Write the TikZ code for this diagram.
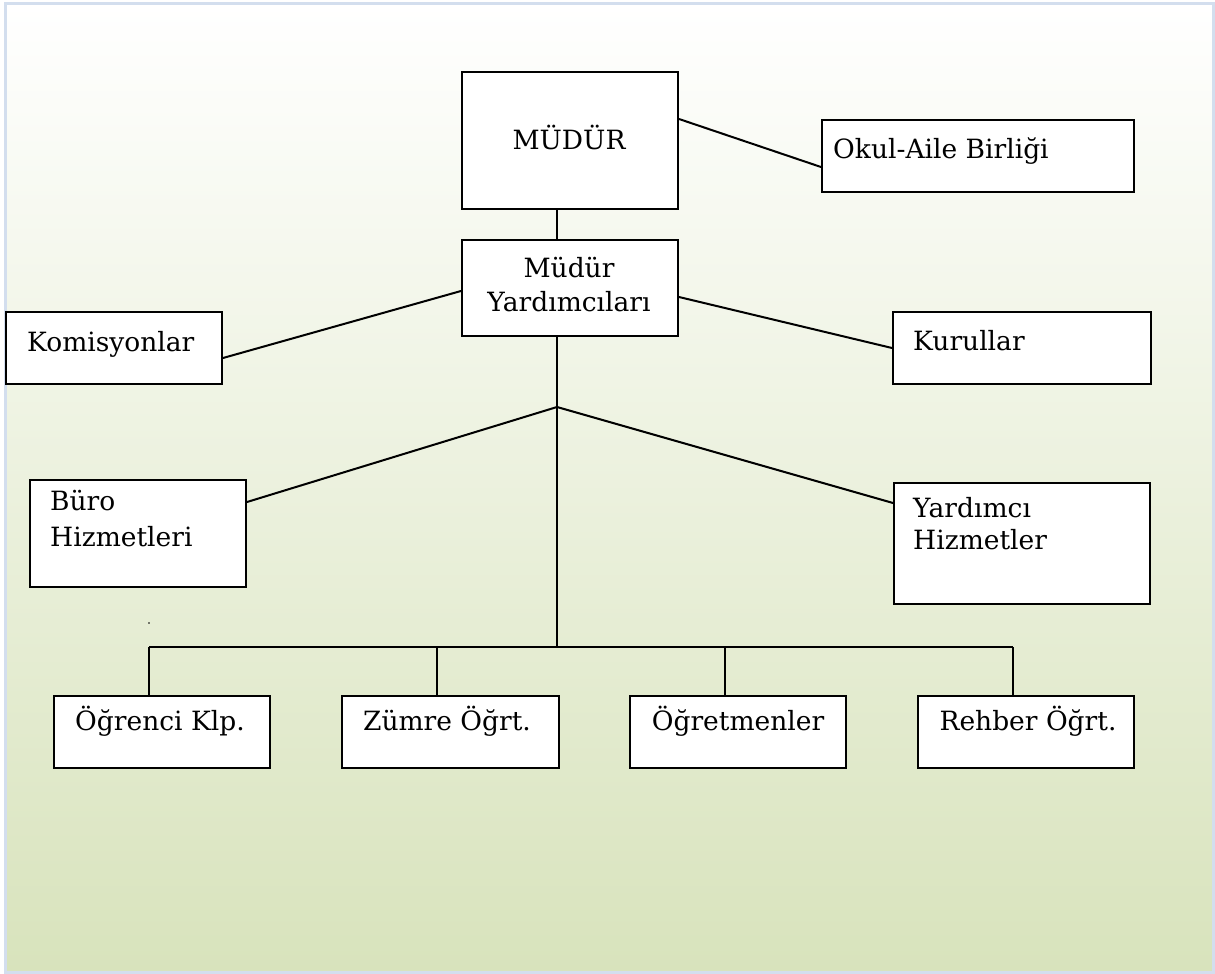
\documentclass[tikz,border=0pt]{standalone}
\usepackage{fontspec}
\setmainfont{DejaVu Serif}
\definecolor{bgbot}{HTML}{D8E3BC}
\definecolor{bgmid}{HTML}{EEF2E3}
\definecolor{frame}{HTML}{D3DEEE}
\begin{document}
\begin{tikzpicture}[x=1pt,y=-1pt,
  box/.style={draw=black,line width=2pt,fill=white,inner sep=0pt,anchor=north west},
  txt/.style={font=\fontsize{26.5}{30}\selectfont,inner sep=0pt},
  conn/.style={draw=black,line width=2pt}]
\useasboundingbox (0,0) rectangle (1215,974);
\shade[top color=white,middle color=bgmid,bottom color=bgbot] (5,4) rectangle (1213,972);
\draw[frame,line width=3pt] (5,4) rectangle (1213,972);
% boxes
\node[box,minimum width=216,minimum height=137] (mudur) at (461,71) {};
\node[box,minimum width=312,minimum height=72] (okul) at (821,119) {};
\node[box,minimum width=216,minimum height=96] (yrd) at (461,239) {};
\node[box,minimum width=216,minimum height=72] (kom) at (5,311) {};
\node[box,minimum width=258,minimum height=72] (kur) at (892,311) {};
\node[box,minimum width=216,minimum height=107] (buro) at (29,479) {};
\node[box,minimum width=256,minimum height=121] (yh) at (893,482) {};
\node[box,minimum width=216,minimum height=72] (ogr) at (53,695) {};
\node[box,minimum width=217,minimum height=72] (zum) at (341,695) {};
\node[box,minimum width=216,minimum height=72] (ogt) at (629,695) {};
\node[box,minimum width=216,minimum height=72] (reh) at (917,695) {};
% texts
\node[txt,anchor=base] (t1) at (569,149) {MÜDÜR};
\node[txt,anchor=base west] (t2) at (833,158) {Okul-Aile Birliği};
\node[txt,anchor=base] (t3) at (569,277) {Müdür};
\node[txt,anchor=base] (t4) at (569,311) {Yardımcıları};
\node[txt,anchor=base west] (t5) at (27,351) {Komisyonlar};
\node[txt,anchor=base west] (t6) at (913,350) {Kurullar};
\node[txt,anchor=base west] (t7) at (50,510) {Büro};
\node[txt,anchor=base west] (t8) at (50,546) {Hizmetleri};
\node[txt,anchor=base west] (t9) at (913,517) {Yardımcı};
\node[txt,anchor=base west] (t10) at (913,549) {Hizmetler};
\node[txt,anchor=base] (t11) at (160,730) {Öğrenci Klp.};
\node[txt,anchor=base] (t12) at (447,730) {Zümre Öğrt.};
\node[txt,anchor=base] (t13) at (738,730) {Öğretmenler};
\node[txt,anchor=base] (t14) at (1028,730) {Rehber Öğrt.};
% coordinates
\coordinate (j) at (557,407);
\coordinate (h) at (557,647);
\coordinate (hl) at (149,647);
\coordinate (hr) at (1013,647);
\coordinate (a1) at (437,647);
\coordinate (a2) at (725,647);
% connectors
\draw[conn] (mudur.south -| 557,0) -- (yrd.north -| 557,0);
\draw[conn] (mudur.north east |- 0,119) -- (okul.west |- 0,167);
\draw[conn] (yrd.west |- 0,291) -- (kom.east |- 0,358);
\draw[conn] (yrd.east |- 0,297) -- (kur.west |- 0,348);
\draw[conn] (yrd.south -| 557,0) -- (h);
\draw[conn] (j) -- (buro.east |- 0,502);
\draw[conn] (j) -- (yh.west |- 0,503);
\draw[conn] (hl) -- (hr);
\draw[conn] (hl) -- (ogr.north -| hl);
\draw[conn] (a1) -- (zum.north -| a1);
\draw[conn] (a2) -- (ogt.north -| a2);
\draw[conn] (hr) -- (reh.north -| hr);
\fill (149,623) circle (0.8);
\end{tikzpicture}
\end{document}
